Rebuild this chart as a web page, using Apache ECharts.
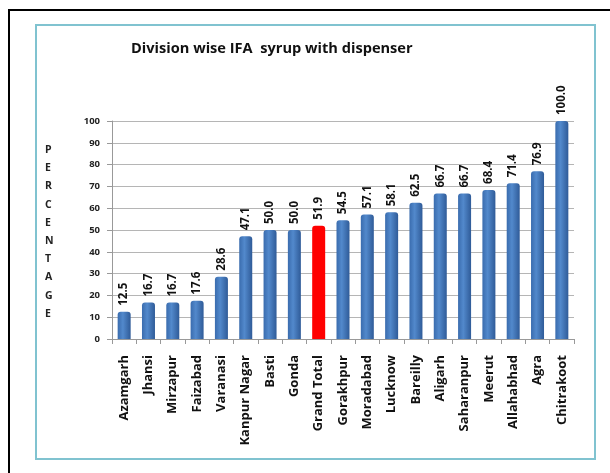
<!DOCTYPE html>
<html>
	<head>
		<meta charset="utf-8">
		<title></title>
		<script src="https://cdn.jsdelivr.net/npm/echarts@6/dist/echarts.min.js"></script>
	</head>
	<body style="margin: 0;">
		<div id="main" style="width: 610px; height: 473px;"></div>
		<script type="text/javascript">
			// data
			var divisions = ['Azamgarh', 'Jhansi', 'Mirzapur', 'Faizabad', 'Varanasi', 'Kanpur Nagar', 'Basti', 'Gonda',
				'Grand Total', 'Gorakhpur', 'Moradabad', 'Lucknow', 'Bareilly', 'Aligarh', 'Saharanpur', 'Meerut',
				'Allahabhad', 'Agra', 'Chitrakoot'];
			var percentValues = [12.5, 16.7, 16.7, 17.6, 28.6, 47.1, 50.0, 50.0, 51.9, 54.5, 57.1, 58.1, 62.5, 66.7,
				66.7, 68.4, 71.4, 76.9, 100.0];
			var highlightName = 'Grand Total';

			var blueBar = new echarts.graphic.LinearGradient(0, 0, 1, 0, [
				{ offset: 0, color: '#3a6cae' },
				{ offset: 0.4, color: '#5289cc' },
				{ offset: 1, color: '#2f5b98' }
			]);
			var redBar = '#ff0000';

			var myCharts = echarts.init(document.getElementById('main'));
			var option = {
				backgroundColor: '#fff',
				animation: false,
				title: {
					text: 'Division wise IFA  syrup with dispenser',
					left: 126,
					top: 36,
					textStyle: { fontFamily: 'Open Sans', fontSize: 14.6, fontWeight: 'bold', color: '#111' }
				},
				graphic: [
					{ type: 'rect', shape: { x: 9, y: 10, width: 620, height: 480 }, style: { fill: 'none', stroke: '#000', lineWidth: 2 } },
					{ type: 'rect', shape: { x: 36, y: 25, width: 559, height: 434 }, style: { fill: 'none', stroke: '#80c3d0', lineWidth: 2 } },
					{
						type: 'text', left: 45, top: 141,
						style: {
							text: 'P\nE\nR\nC\nE\nN\nT\nA\nG\nE',
							font: 'bold 10.5px "Open Sans"', lineHeight: 18.2, fill: '#222', align: 'center'
						}
					}
				],
				grid: { left: 112, right: 36, top: 121, bottom: 134 },
				xAxis: {
					type: 'category',
					data: divisions,
					axisLine: { lineStyle: { color: '#999' } },
					axisTick: { show: true, alignWithLabel: false, lineStyle: { color: '#999' } },
					axisLabel: {
						interval: 0, rotate: 90, margin: 16,
						fontFamily: 'Open Sans', fontSize: 13, fontWeight: 'bold', color: '#111'
					}
				},
				yAxis: {
					type: 'value',
					min: 0, max: 100, interval: 10,
					axisLine: { show: true, lineStyle: { color: '#999' } },
					axisTick: { show: true, lineStyle: { color: '#999' } },
					axisLabel: { fontFamily: 'Open Sans', fontSize: 9.5, fontWeight: 'bold', color: '#222', margin: 12 },
					splitLine: { lineStyle: { color: '#b5b5b5' } }
				},
				series: [{
					type: 'bar',
					barWidth: 13,
					data: percentValues.map(function (v, i) {
						return {
							value: v,
							itemStyle: { color: divisions[i] === highlightName ? redBar : blueBar }
						};
					}),
					itemStyle: { borderRadius: [3, 3, 0, 0] },
					label: {
						show: true, position: 'top', rotate: 90, align: 'left', verticalAlign: 'middle',
						distance: 6,
						formatter: function (p) { return p.value.toFixed(1); },
						fontFamily: 'Open Sans', fontSize: 11.5, fontWeight: 'bold', color: '#111'
					}
				}]
			};
			myCharts.setOption(option);
		</script>
	</body>
</html>
